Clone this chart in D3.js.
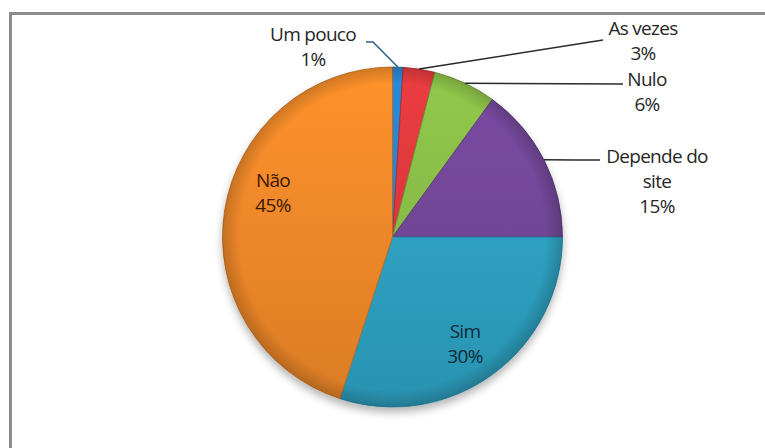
<!DOCTYPE html>
<html>
<head>
<meta charset="utf-8">
<script src="https://cdn.jsdelivr.net/npm/d3@7"></script>
<style>
  html, body { margin: 0; padding: 0; background: #fff; }
  svg { display: block; }
  text { font-family: "Open Sans", "Noto Sans", sans-serif; }
</style>
</head>
<body>
<svg id="chart" width="765" height="448"></svg>
<script>
// Survey answers, in drawing order (clockwise from 12 o'clock)
const categories = ["Um pouco", "As vezes", "Nulo", "Depende do site", "Sim", "Não"];
const values = [1, 3, 6, 15, 30, 45];
const labelLines = [["Um pouco", "1%"], ["As vezes", "3%"], ["Nulo", "6%"],
                    ["Depende do", "site", "15%"], ["Sim", "30%"], ["Não", "45%"]];
const colors = ["#2a84cc", "#e0393d", "#8abf48", "#74479a", "#2fa4c5", "#f38a2a"];

const W = 765, H = 448;
const cx = 392.5, cy = 237, R = 170;
const fontSize = 19, lineH = 25;

const svg = d3.select("#chart");
const defs = svg.append("defs");

// soft shadow under the pie
const sh = defs.append("filter").attr("id", "shadow")
  .attr("x", "-20%").attr("y", "-20%").attr("width", "140%").attr("height", "140%");
sh.append("feGaussianBlur").attr("in", "SourceAlpha").attr("stdDeviation", 4).attr("result", "b");
sh.append("feOffset").attr("in", "b").attr("dy", 5).attr("result", "o");
sh.append("feComponentTransfer").attr("in", "o").attr("result", "s")
  .append("feFuncA").attr("type", "linear").attr("slope", 0.3);
const merge = sh.append("feMerge");
merge.append("feMergeNode").attr("in", "s");
merge.append("feMergeNode").attr("in", "SourceGraphic");

// per-slice vertical shading (pie-local coordinates)
colors.forEach((c, i) => {
  const g = defs.append("linearGradient").attr("id", "grad" + i)
    .attr("gradientUnits", "userSpaceOnUse")
    .attr("x1", 0).attr("y1", -R).attr("x2", 0).attr("y2", R);
  g.append("stop").attr("offset", "0%").attr("stop-color", d3.color(c).brighter(0.15));
  g.append("stop").attr("offset", "100%").attr("stop-color", d3.color(c).darker(0.3));
});

// rim darkening for a bevelled look
const rim = defs.append("radialGradient").attr("id", "rim")
  .attr("gradientUnits", "userSpaceOnUse").attr("cx", 0).attr("cy", 0).attr("r", R);
rim.append("stop").attr("offset", "0.9").attr("stop-color", "#000").attr("stop-opacity", 0);
rim.append("stop").attr("offset", "1").attr("stop-color", "#000").attr("stop-opacity", 0.18);

// frame
svg.append("rect").attr("width", W).attr("height", H).attr("fill", "#fff");
svg.append("rect").attr("x", 10.5).attr("y", 13.5).attr("width", 800).attr("height", 500)
  .attr("fill", "none").attr("stroke", "#8c8c8c").attr("stroke-width", 3);

const data = categories.map((c, i) => ({ name: c, value: values[i], lines: labelLines[i], color: colors[i], idx: i }));
const pie = d3.pie().value(d => d.value).sort(null);
const arcs = pie(data);
const arc = d3.arc().innerRadius(0).outerRadius(R);
const edge = d3.arc().innerRadius(R).outerRadius(R);

const gPie = svg.append("g").attr("transform", `translate(${cx},${cy})`);
const gSlices = gPie.append("g").attr("filter", "url(#shadow)");
gSlices.selectAll("path.slice").data(arcs).join("path")
  .attr("class", "slice")
  .attr("d", arc)
  .attr("fill", d => `url(#grad${d.data.idx})`)
  .attr("stroke", d => d3.color(d.data.color).darker(0.8))
  .attr("stroke-width", 0.8);
gPie.selectAll("path.rim").data(arcs).join("path")
  .attr("class", "rim").attr("d", arc).attr("fill", "url(#rim)");

// label placement: outside labels get a leader line to the slice rim
const outside = {
  0: { text: [313, 41], path: [[373, 42], [366, 42]] },
  1: { text: [643, 35], path: [[603, 40]] },
  2: { text: [647, 86], path: [[623, 84]] },
  3: { text: [657, 163], path: [[575, 160], [600, 160]] }
};
const inside = {
  4: [465, 338],
  5: [273, 187]
};

function addLabel(lines, x, y, fill) {
  const t = svg.append("text").attr("text-anchor", "middle").attr("font-size", fontSize)
    .attr("fill", fill).attr("letter-spacing", -0.7);
  lines.forEach((ln, k) => {
    t.append("tspan").attr("x", x).attr("y", y + k * lineH).text(ln);
  });
}

arcs.forEach((d, i) => {
  const e = edge.centroid(d);
  if (outside[i]) {
    const o = outside[i];
    const pts = [[cx + e[0], cy + e[1]]].concat(o.path);
    svg.append("path")
      .attr("d", d3.line()(pts))
      .attr("fill", "none")
      .attr("stroke", i === 0 ? "#2d5f8e" : "#2a2a2a")
      .attr("stroke-width", 1.5);
    addLabel(d.data.lines, o.text[0], o.text[1], "#262626");
  } else {
    const p = inside[i];
    addLabel(d.data.lines, p[0], p[1], i === 5 ? "#3a1800" : "#0f2a38");
  }
});
</script>
</body>
</html>
